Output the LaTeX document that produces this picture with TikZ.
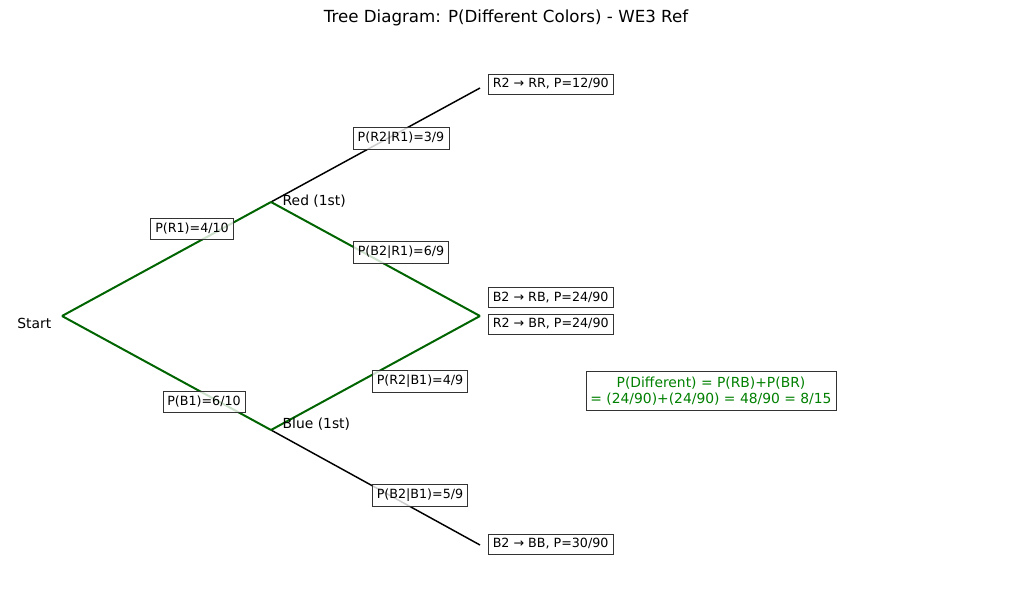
\documentclass[tikz,border=0pt]{standalone}
\usepackage{fontspec}
\setmainfont{DejaVu Sans}
\definecolor{treegreen}{RGB}{0,100,0}
\definecolor{sumgreen}{RGB}{0,128,0}
\tikzset{
  probbox/.style={draw=black!80, fill=white, fill opacity=0.8, text opacity=1,
    inner xsep=3.4pt, inner ysep=3.6pt, font=\fontsize{9.5}{11}\selectfont},
  leafbox/.style={probbox, anchor=west},
  branch/.style={line width=1.5pt, treegreen},
  endbranch/.style={line width=1.1pt, black},
  stagetext/.style={font=\fontsize{10.4}{12}\selectfont}
}
\begin{document}
\begin{tikzpicture}[x=0.75pt, y=-0.75pt]
        \useasboundingbox (0,0) rectangle (1011,611);

        \node[font=\fontsize{12.5}{14}\selectfont] (title) at (506,18) {Tree Diagram: P(Different Colors) - WE3 Ref};

        % points of the tree
        \coordinate (start) at (62,316);
        \coordinate (red) at (271,202);
        \coordinate (blue) at (271,430);
        \coordinate (rr) at (480,88);
        \coordinate (mix) at (480,316);
        \coordinate (bb) at (480,545);

        \draw[endbranch] (red) -- (rr);
        \draw[endbranch] (blue) -- (bb);
        \draw[branch] (start) -- (red);
        \draw[branch] (start) -- (blue);
        \draw[branch] (red) -- (mix);
        \draw[branch] (blue) -- (mix);

        \node[stagetext, anchor=east] (startlbl) at (56,323) {Start};
        \node[stagetext, anchor=west] (redlbl) at (278,201) {Red (1st)};
        \node[stagetext, anchor=west] (bluelbl) at (278,424) {Blue (1st)};

        % branch probabilities
        \node[probbox] (pr1) at (192,229) {P(R1)=4/10};
        \node[probbox] (pb1) at (204,402) {P(B1)=6/10};
        \node[probbox] (pr2r1) at (401,138) {P(R2|R1)=3/9};
        \node[probbox] (pb2r1) at (401,252) {P(B2|R1)=6/9};
        \node[probbox] (pr2b1) at (420,381) {P(R2|B1)=4/9};
        \node[probbox] (pb2b1) at (420,495) {P(B2|B1)=5/9};

        % outcomes
        \node[leafbox] (outrr) at (488,84) {R2 → RR, P=12/90};
        \node[leafbox] (outrb) at (488,297.5) {B2 → RB, P=24/90};
        \node[leafbox] (outbr) at (488,324) {R2 → BR, P=24/90};
        \node[leafbox] (outbb) at (488,544) {B2 → BB, P=30/90};

        \node[probbox, text=sumgreen, align=center, font=\fontsize{10.4}{12.5}\selectfont] (summary) at (711,391)
          {P(Different) = P(RB)+P(BR)\\= (24/90)+(24/90) = 48/90 = 8/15};

\end{tikzpicture}
\end{document}
